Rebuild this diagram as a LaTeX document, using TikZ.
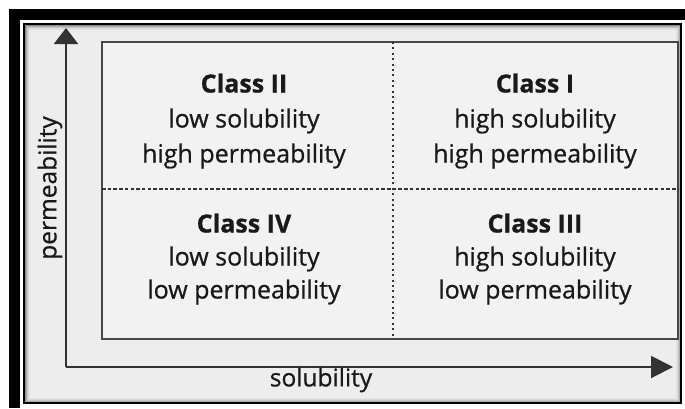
\documentclass[tikz,border=0pt]{standalone}
\usepackage{fontspec}
\setmainfont{Open Sans}[FakeBold=0.7]
\newfontfamily\qfont{Open Sans}[FakeBold=0.7]
\usetikzlibrary{arrows.meta}
\tikzset{
  quadtext/.style={align=center, text=black!90, inner sep=0pt, font=\qfont\fontsize{25}{35}\selectfont},
  quadlow/.style={quadtext, font=\qfont\fontsize{25}{33}\selectfont},
  axislabel/.style={text=black!90, inner sep=0pt, font=\qfont\fontsize{24.5}{30}\selectfont},
  axisline/.style={draw=black!80, line width=2pt},
  boxline/.style={draw=black!72, line width=2pt},
  divider/.style={draw=black!80, line width=1.7pt},
}
\begin{document}
\begin{tikzpicture}[x=1pt,y=-1pt]
\useasboundingbox (0,0) rectangle (685,408);
\fill[white] (0,0) rectangle (685,408);
% thick outer frame (cut off right/bottom)
\fill[black] (9,9) rectangle (685,20);
\fill[black] (9,9) rectangle (20,408);
% panel
\fill[black!7] (24,24) rectangle (681,403);
\foreach \i/\c in {1/45,2/32,3/22,4/15,5/10}{
  \draw[black!\c, line width=1pt] (24+\i,24+\i) rectangle (681-\i,403-\i);
}
\draw[black, line width=2.5pt] (24,24) rectangle (681,403);
% classification box
\filldraw[boxline, fill=black!5] (102,42) rectangle (678,339);
\coordinate (vtop) at (393,42);
\coordinate (vbot) at (393,339);
\coordinate (hleft) at (102,189);
\coordinate (hright) at (678,189);
\draw[divider, dash pattern=on 2pt off 3.4pt] (vtop) -- (vbot);
\draw[divider, dash pattern=on 3.5pt off 2.2pt] (hleft) -- (hright);
% axes
\coordinate (origin) at (66,367);
\coordinate (ytip) at (66,28);
\coordinate (xtip) at (673,367);
\draw[axisline, -{Triangle[length=16pt,width=24pt]}] (origin) -- (ytip);
\draw[axisline, -{Triangle[length=22pt,width=22pt]}] (origin) -- (xtip);
% labels
\node[axislabel, rotate=90] (perm) at (50,188) {permeability};
\node[axislabel] (sol) at (321,380) {solubility};
% quadrants
\node[quadtext] (c2) at (244,121) {\textbf{Class II}\\low solubility\\high permeability};
\node[quadtext] (c1) at (535,121) {\textbf{Class I}\\high solubility\\high permeability};
\node[quadlow] (c4) at (244,259) {\textbf{Class IV}\\low solubility\\low permeability};
\node[quadlow] (c3) at (535,259) {\textbf{Class III}\\high solubility\\low permeability};
\end{tikzpicture}
\end{document}
